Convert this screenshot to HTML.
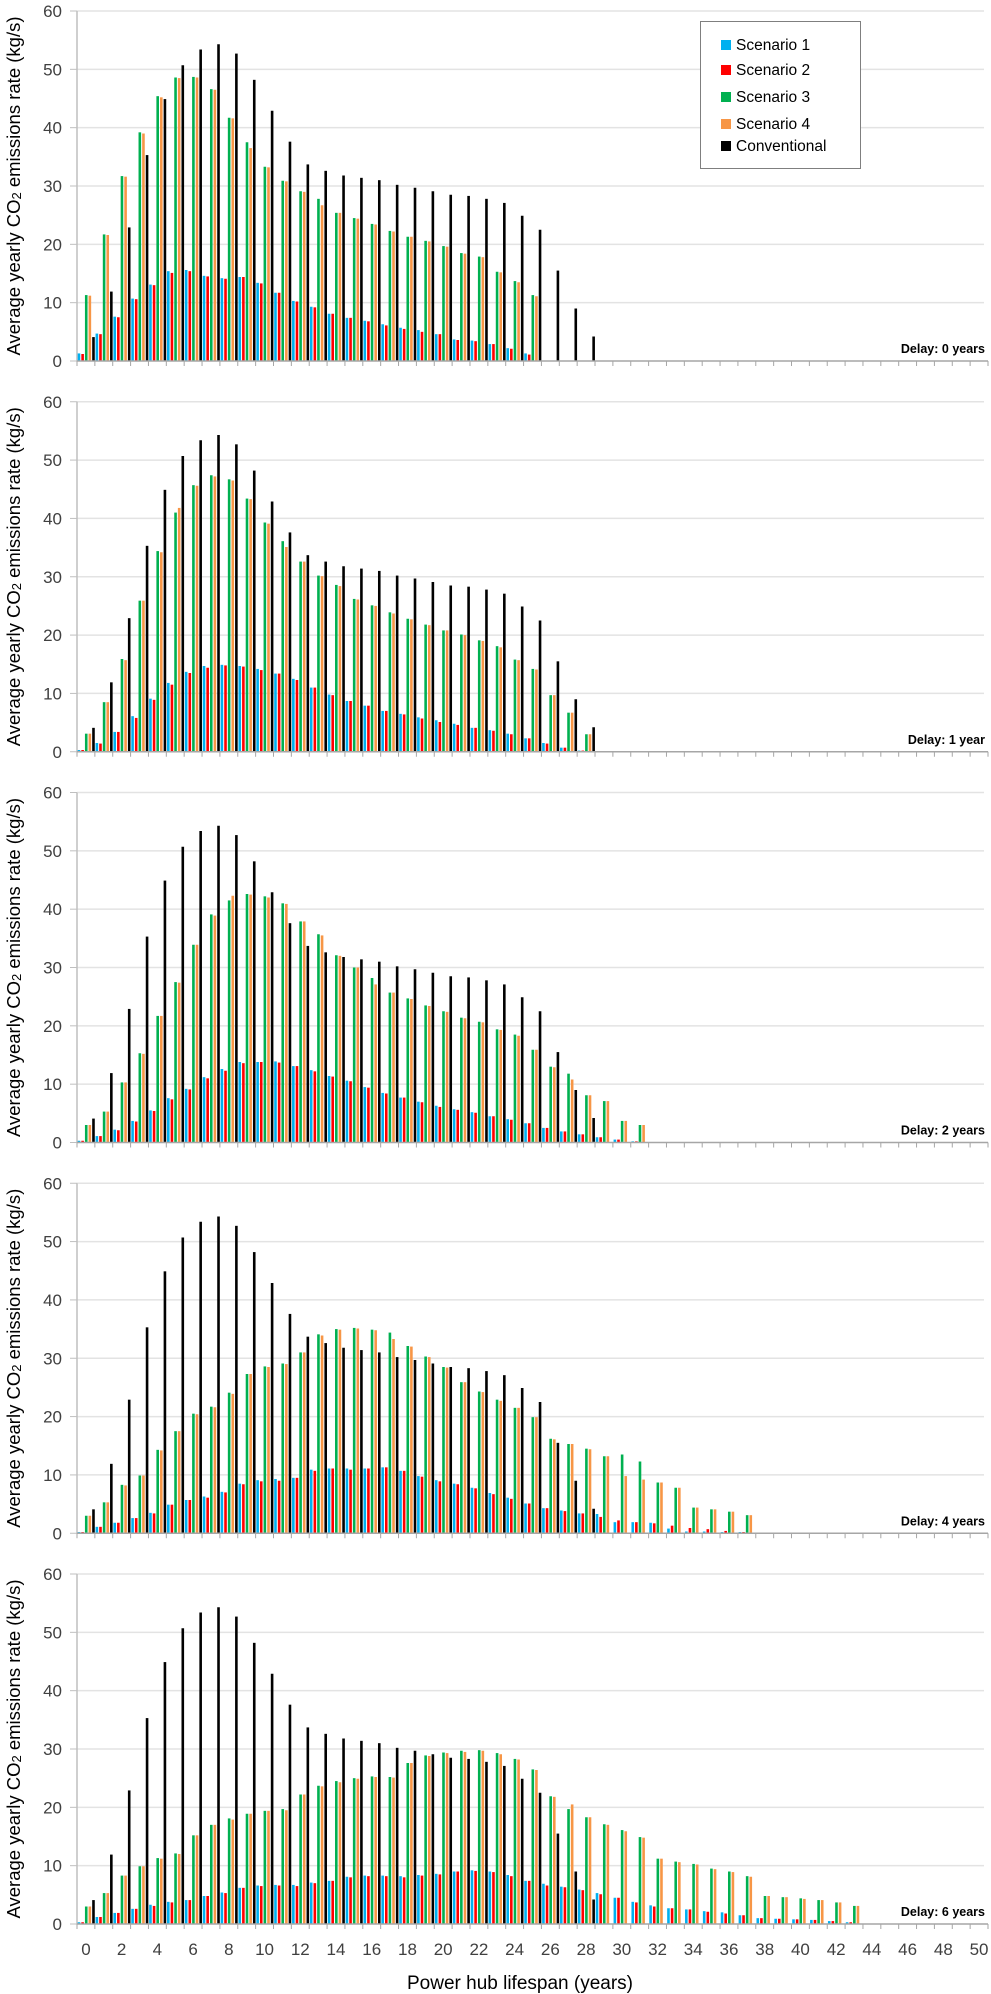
<!DOCTYPE html>
<html>
<head>
<meta charset="utf-8">
<style>
  html,body{margin:0;padding:0;background:#fff;}
  body{width:991px;height:1994px;position:relative;overflow:hidden;font-family:"Liberation Sans",Arial,sans-serif;}
  svg{position:absolute;left:0;top:0;}
  #legend{position:absolute;left:700px;top:21px;width:161px;height:148px;border:1px solid #7f7f7f;background:#fff;box-sizing:border-box;}
  .le{position:absolute;left:20px;font-size:15.5px;color:#000;white-space:nowrap;}
  .sw{display:inline-block;width:10px;height:10px;margin-right:5px;vertical-align:0px;}
</style>
</head>
<body>
<svg id="chart" width="991" height="1994"></svg>
<div id="legend">
  <div class="le" style="top:15px"><span class="sw" style="background:#00b0f0"></span>Scenario 1</div>
  <div class="le" style="top:40px"><span class="sw" style="background:#ff0000"></span>Scenario 2</div>
  <div class="le" style="top:67px"><span class="sw" style="background:#00b050"></span>Scenario 3</div>
  <div class="le" style="top:94px"><span class="sw" style="background:#f79646"></span>Scenario 4</div>
  <div class="le" style="top:116px"><span class="sw" style="background:#000"></span>Conventional</div>
</div>
<script>
// ---- data ----
const categories = Array.from({length:51},(_,i)=>i); // lifespan years 0..50
const xTickLabels = ["0","2","4","6","8","10","12","14","16","18","20","22","24","26","28","30","32","34","36","38","40","42","44","46","48","50"];
const yTickLabels = [0,10,20,30,40,50,60];
const delayLabels = ["Delay: 0 years","Delay: 1 year","Delay: 2 years","Delay: 4 years","Delay: 6 years"];
const seriesNames = ["Scenario 1","Scenario 2","Scenario 3","Scenario 4","Conventional"];

const conventional = [4.1,11.9,22.9,35.3,44.9,50.7,53.4,54.3,52.7,48.2,42.9,37.6,33.7,32.6,31.8,31.4,31.0,30.2,29.7,29.1,28.5,28.3,27.8,27.1,24.9,22.5,15.5,9.0,4.2];

const d0_s1 = [1.3,4.7,7.6,10.7,13.1,15.4,15.6,14.6,14.2,14.4,13.4,11.7,10.3,9.3,8.1,7.4,6.9,6.3,5.7,5.3,4.6,3.7,3.5,2.9,2.2,1.3];
const d0_s2 = [1.2,4.6,7.5,10.6,13.0,15.1,15.4,14.5,14.1,14.4,13.3,11.7,10.2,9.2,8.1,7.4,6.8,6.1,5.5,5.0,4.6,3.6,3.4,2.9,2.1,1.1];
const d0_s3 = [11.3,21.7,31.7,39.2,45.4,48.6,48.7,46.6,41.7,37.5,33.3,30.9,29.1,27.8,25.4,24.5,23.5,22.3,21.3,20.6,19.7,18.5,17.9,15.3,13.7,11.3];
const d0_s4 = [11.2,21.6,31.6,39.0,45.2,48.5,48.6,46.5,41.6,36.5,33.2,30.8,29.0,26.7,25.4,24.4,23.4,22.2,21.3,20.5,19.6,18.4,17.8,15.2,13.5,11.1];

const d1_s1 = [0.3,1.5,3.4,6.1,9.1,11.8,13.7,14.7,14.9,14.7,14.2,13.4,12.5,11.0,9.8,8.7,7.9,7.0,6.5,5.9,5.4,4.8,4.1,3.7,3.1,2.3,1.5,0.7,0.2];
const d1_s2 = [0.3,1.4,3.4,5.8,8.9,11.5,13.5,14.4,14.8,14.6,14.0,13.4,12.3,11.0,9.7,8.7,7.9,7.0,6.4,5.7,5.1,4.6,4.1,3.6,3.0,2.3,1.4,0.7,0.2];
const d1_s3 = [3.1,8.5,15.9,25.9,34.4,41.0,45.7,47.4,46.7,43.4,39.3,36.1,32.6,30.2,28.6,26.2,25.1,23.9,22.8,21.8,20.8,20.1,19.1,18.1,15.8,14.2,9.7,6.7,3.0];
const d1_s4 = [3.1,8.5,15.7,25.9,34.2,41.8,45.6,47.2,46.5,43.3,39.1,35.1,32.6,30.1,28.4,26.1,25.0,23.7,22.7,21.7,20.8,20.0,19.0,17.9,15.7,14.1,9.7,6.7,3.0];

const d2_s1 = [0.3,1.1,2.2,3.7,5.5,7.6,9.2,11.2,12.6,13.8,13.8,13.9,13.1,12.4,11.4,10.6,9.5,8.5,7.7,7.0,6.3,5.7,5.2,4.5,4.0,3.3,2.5,1.9,1.4,0.9,0.5,0.2];
const d2_s2 = [0.3,1.1,2.1,3.6,5.4,7.4,9.1,11.0,12.3,13.6,13.8,13.7,13.1,12.2,11.3,10.5,9.4,8.4,7.7,6.9,6.1,5.6,5.1,4.5,3.9,3.3,2.5,1.9,1.4,0.9,0.5,0.2];
const d2_s3 = [3.0,5.3,10.3,15.3,21.7,27.5,33.9,39.1,41.5,42.6,42.2,41.0,37.9,35.7,32.1,30.0,28.2,25.7,24.7,23.5,22.5,21.4,20.7,19.4,18.5,15.9,13.0,11.8,8.1,7.1,3.7,3.0];
const d2_s4 = [3.0,5.3,10.3,15.2,21.7,27.4,33.9,38.9,42.3,42.5,42.0,40.9,37.9,35.5,32.0,30.0,27.1,25.7,24.6,23.4,22.4,21.3,20.6,19.3,18.3,15.9,12.9,10.8,8.1,7.1,3.7,3.0];

const d4_s1 = [0.2,1.1,1.8,2.6,3.5,4.9,5.7,6.3,7.1,8.5,9.1,9.3,9.5,10.9,11.1,11.1,11.1,11.3,10.7,9.8,9.1,8.5,7.8,6.9,6.1,5.1,4.3,3.9,3.4,3.3,1.9,1.9,1.8,0.8,0.3,0.3,0.2,0.2];
const d4_s2 = [0.2,1.1,1.8,2.6,3.4,4.9,5.7,6.1,7.0,8.4,8.9,9.0,9.5,10.7,11.1,10.9,11.1,11.3,10.7,9.7,8.9,8.4,7.7,6.7,5.9,5.1,4.3,3.8,3.4,2.8,2.2,1.9,1.7,1.3,0.9,0.7,0.4,0.2];
const d4_s3 = [3.0,5.3,8.3,9.9,14.3,17.5,20.5,21.7,24.1,27.3,28.6,29.1,31.0,34.1,35.0,35.2,34.9,34.4,32.1,30.3,28.5,25.9,24.3,22.9,21.5,19.9,16.2,15.3,14.5,13.2,13.5,12.3,8.7,7.8,4.4,4.1,3.7,3.1];
const d4_s4 = [3.0,5.3,8.2,9.9,14.2,17.5,20.4,21.6,23.9,27.3,28.5,29.0,31.0,33.9,34.9,35.1,34.8,33.3,32.0,30.2,28.4,25.9,24.2,22.7,21.5,19.9,16.1,15.3,14.4,13.2,9.8,9.2,8.7,7.8,4.4,4.1,3.7,3.1];

const d6_s1 = [0.3,1.2,1.9,2.6,3.3,3.8,4.1,4.8,5.4,6.2,6.6,6.7,6.7,7.1,7.4,8.1,8.3,8.3,8.2,8.4,8.6,9.0,9.2,9.0,8.4,7.4,6.9,6.4,5.9,5.3,4.5,3.8,3.2,2.7,2.5,2.2,2.0,1.5,1.0,0.9,0.8,0.7,0.5,0.3];
const d6_s2 = [0.3,1.2,1.9,2.6,3.1,3.7,4.1,4.8,5.3,6.2,6.5,6.6,6.5,7.0,7.4,8.0,8.2,8.2,8.0,8.3,8.5,9.0,9.1,8.9,8.2,7.4,6.6,6.3,5.8,5.1,4.5,3.7,3.0,2.7,2.5,2.1,1.8,1.5,1.0,0.9,0.8,0.7,0.5,0.3];
const d6_s3 = [3.0,5.3,8.3,9.9,11.3,12.1,15.2,17.0,18.1,18.9,19.4,19.7,22.2,23.7,24.5,25.0,25.3,25.2,27.6,28.9,29.4,29.7,29.8,29.3,28.3,26.5,21.9,19.7,18.3,17.1,16.1,14.9,11.2,10.7,10.3,9.5,9.0,8.2,4.8,4.6,4.4,4.1,3.7,3.1];
const d6_s4 = [3.0,5.3,8.3,9.9,11.2,12.0,15.2,17.0,17.9,18.9,19.4,19.5,22.2,23.6,24.3,24.9,25.2,25.1,27.6,28.8,29.3,29.5,29.7,29.1,28.2,26.4,21.8,20.5,18.3,17.0,15.9,14.8,11.2,10.6,10.2,9.4,8.9,8.1,4.8,4.6,4.3,4.1,3.7,3.1];

// ---- layout ----
const NS = "http://www.w3.org/2000/svg";
const svg = document.getElementById('chart');
const X0 = 77, X1 = 988;
const catW = (X1 - X0) / categories.length;
const PANEL_H = 350, YMAX = 60;
const colors = ["#00b0f0","#ff0000","#00b050","#f79646","#000000"];
const panels = [
  [d0_s1,d0_s2,d0_s3,d0_s4,conventional],
  [d1_s1,d1_s2,d1_s3,d1_s4,conventional],
  [d2_s1,d2_s2,d2_s3,d2_s4,conventional],
  [d4_s1,d4_s2,d4_s3,d4_s4,conventional],
  [d6_s1,d6_s2,d6_s3,d6_s4,conventional]
];
function zeroY(p){ return 361 + p*390.75; }
function yScale(p,v){ return zeroY(p) - v/YMAX*PANEL_H; }
function xCat(i){ return X0 + i*catW; }

function mk(tag, attrs, parent){
  const e = document.createElementNS(NS, tag);
  for (const k in attrs) e.setAttribute(k, attrs[k]);
  (parent||svg).appendChild(e);
  return e;
}

panels.forEach((series, p) => {
  const g = mk('g', {});
  
  
  const z = zeroY(p);
  // gridlines and y labels
  yTickLabels.forEach(v => {
    const y = yScale(p, v);
    if (v > 0) {
      const gl = mk('line', {x1:X0, x2:X1-4, y1:y, y2:y, stroke:'#e3e3e3', 'stroke-width':1.5}, g);
      
      
    }
    mk('line', {x1:70, x2:X0, y1:y, y2:y, stroke:'#bfbfbf', 'stroke-width':1}, g);
    const t = mk('text', {x:62, y:y+6, 'text-anchor':'end', 'font-size':17, fill:'#404040', 'font-family':'Liberation Sans, sans-serif'}, g);
    t.textContent = v;
    
    
  });
  // y axis
  const ya = mk('line', {x1:X0, x2:X0, y1:yScale(p,60), y2:z, stroke:'#bfbfbf', 'stroke-width':1.5}, g);
  
  
  // bars
  const off = 0.7, step = 3.62, bw = 2.6;
  series.forEach((arr, s) => {
    arr.forEach((v, i) => {
      const x = xCat(i) + off + s*step;
      const y = yScale(p, v);
      const r = mk('rect', {x:x, y:y, width:bw, height:Math.max(0, z - y), fill:colors[s]}, g);
      
      
    });
  });
  // x axis
  const xa = mk('line', {x1:X0, x2:X1, y1:z, y2:z, stroke:'#a6a6a6', 'stroke-width':1.5}, g);
  
  
  for (let i = 0; i <= categories.length; i++) {
    mk('line', {x1:xCat(i), x2:xCat(i), y1:z, y2:z+5, stroke:'#a6a6a6', 'stroke-width':1}, g);
  }
  // y title
  const ty = z - PANEL_H/2;
  const tt = mk('text', {x:0, y:0, transform:'translate(20,' + ty + ') rotate(-90)', 'text-anchor':'middle', 'font-size':18.5, fill:'#000', 'font-family':'Liberation Sans, sans-serif'}, g);
  
  
  const a = document.createElementNS(NS, 'tspan'); a.textContent = 'Average yearly CO';
  const b = document.createElementNS(NS, 'tspan'); b.textContent = '2'; b.setAttribute('font-size', '13'); b.setAttribute('dy', '1');
  const c = document.createElementNS(NS, 'tspan'); c.textContent = ' emissions rate (kg/s)'; c.setAttribute('dy', '-1');
  tt.appendChild(a); tt.appendChild(b); tt.appendChild(c);
  // delay label
  const dl = mk('text', {x:985, y:z-8, 'text-anchor':'end', 'font-size':12.5, 'font-weight':'bold', fill:'#000', 'font-family':'Liberation Sans, sans-serif'}, g);
  dl.textContent = delayLabels[p];
  
  
});

// x tick labels (bottom panel)
const zb = zeroY(4);
xTickLabels.forEach((lab, k) => {
  const i = Number(lab);
  const t = mk('text', {x:xCat(i)+catW/2, y:zb+31, 'text-anchor':'middle', 'font-size':17, fill:'#404040', 'font-family':'Liberation Sans, sans-serif'});
  t.textContent = lab;
  
  
});
const xt = mk('text', {x:520, y:zb+65, 'text-anchor':'middle', 'font-size':19, fill:'#000', 'font-family':'Liberation Sans, sans-serif'});
xt.textContent = 'Power hub lifespan (years)';


</script>
</body>
</html>
